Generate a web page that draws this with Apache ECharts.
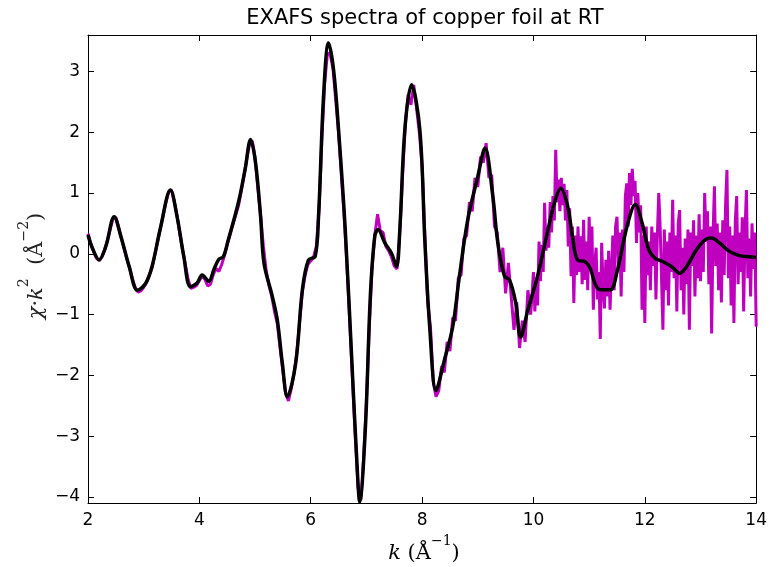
<!DOCTYPE html>
<html>
<head>
<meta charset="utf-8">
<title>EXAFS spectra of copper foil at RT</title>
<script src="https://cdn.jsdelivr.net/npm/echarts@6/dist/echarts.min.js"></script>
<style>
  html, body { margin: 0; padding: 0; background: #fff; }
  #chart { width: 770px; height: 567px; }
</style>
</head>
<body>
<div id="chart"></div>
<script>
// Measured chi(k)*k^2, low-k part, step 0.05 from k = 2.00
const lowStart = 2.0;
const lowStep = 0.05;
const measuredLow = [
  // 2.00 - 2.95
  0.33, 0.17, 0.04, -0.07, -0.11, -0.05, 0.07, 0.22, 0.41, 0.58, 0.60, 0.43, 0.25, 0.08, -0.09, -0.25, -0.42, -0.56, -0.63, -0.61,
  // 3.00 - 3.95
  -0.55, -0.47, -0.35, -0.23, -0.02, 0.20, 0.42, 0.63, 0.85, 1.02, 1.05, 0.86, 0.62, 0.33, 0.06, -0.19, -0.43, -0.57, -0.55, -0.52,
  // 4.00 - 4.95
  -0.44, -0.37, -0.42, -0.53, -0.50, -0.34, -0.24, -0.29, -0.18, -0.03, 0.16, 0.31, 0.48, 0.63, 0.78, 1.02, 1.28, 1.55, 1.80, 1.86,
  // 5.00 - 5.95
  1.58, 1.08, 0.62, 0.12, -0.28, -0.52, -0.70, -0.95, -1.15, -1.55, -1.93, -2.30, -2.42, -2.22, -1.97, -1.63, -1.12, -0.62, -0.35, -0.17,
  // 6.00 - 6.95
  -0.12, -0.06, 0.12, 0.74, 1.88, 2.80, 3.30, 3.28, 3.05, 2.52, 1.98, 1.30, 0.62, -0.18, -1.10, -2.05, -3.00, -3.85, -4.05, -3.35,
  // 7.00 - 7.95
  -2.42, -1.25, -0.25, 0.30, 0.65, 0.38, 0.35, 0.12, 0.05, -0.05, -0.20, -0.25, 0.35, 1.30, 2.15, 2.62, 2.45, 2.78, 2.40, 2.00,
  // 8.00 - 8.95
  1.45, 0.30, -0.80, -1.20, -2.10, -2.35, -2.25, -1.85, -1.95, -1.45, -1.60, -1.05, -1.10, -0.40, -0.35, 0.25, 0.30, 0.85, 0.70, 1.25,
  // 9.00 - 9.95
  1.10, 1.60, 1.50, 1.82, 1.25, 1.30, 0.45, 0.35, -0.30, 0.10, -0.65, -0.15, -0.70, -1.25, -0.80, -1.55, -1.10, -1.45, -0.60, -1.00
];

// Measured chi(k)*k^2, high-k part, step 0.025 from k = 10.000
const highStart = 10.0;
const highStep = 0.025;
const measuredHigh = [
  // 10.000 - 10.975
  -0.30, -0.95, -0.40, -0.85, 0.20, -0.45, 0.15, -0.30, 0.84, 0.05, 0.45, 0.10, 0.85, 0.35, 0.95, 0.55, 1.71, 0.85, 1.22, 0.70,
  1.25, 0.80, 1.15, 0.55, 1.05, 0.12, 0.75, -0.37, 0.45, -0.81, 0.30, -0.35, 0.45, -0.30, 0.29, -0.50, 0.56, -0.43, 0.20, -0.60,
  // 11.000 - 11.975
  0.61, -0.20, 0.45, -0.92, -0.20, 0.10, -0.75, -0.30, -1.40, 0.18, -0.55, -0.90, -0.10, -0.70, 0.05, -0.92, -0.30, 0.30, -0.60, 0.45,
  0.61, -0.20, 0.35, -0.70, 0.40, -0.30, 0.95, 1.16, 0.45, 1.33, 0.80, 1.40, 0.95, 1.20, 0.18, 1.00, 0.35, 0.80, -0.92, 0.30,
  // 12.000 - 12.975
  -1.14, 0.45, -0.35, 0.20, -0.60, 0.45, -0.20, 0.35, -0.75, 0.30, 1.00, 0.45, -0.40, -1.25, 0.40, -0.60, 0.20, -0.85, 0.35, -0.30,
  0.89, -0.40, 0.30, -0.95, 0.50, 0.72, -0.60, 0.10, -1.00, 0.25, -0.50, 0.40, -1.25, 0.35, -0.20, 0.55, -0.70, 0.30, -0.40, 0.65,
  // 13.000 - 13.975
  -0.45, 0.40, -0.30, 1.00, 0.20, 0.70, -0.50, 0.45, -1.31, 0.30, 1.11, -0.20, 0.50, -0.60, 0.35, -0.80, 0.55, -0.35, 0.80, 1.38,
  -0.40, 0.45, -0.85, 0.30, -1.14, 0.55, 0.95, -0.50, 0.35, -0.30, 0.60, -0.95, 0.40, 1.05, -0.40, 0.25, -0.70, 0.50, -0.25, 0.35,
  // 14.000
  -1.20
];

// Smoothed back-transform (fit) of the spectrum
const fitK = [
  2.00, 2.08, 2.20, 2.32, 2.47, 2.59, 2.74, 2.89, 3.04, 3.15, 3.30, 3.48, 3.60, 3.72, 3.84, 3.96, 4.05, 4.17, 4.26, 4.35,
  4.43, 4.52, 4.70, 4.82, 4.92, 5.01, 5.10, 5.16, 5.31, 5.40, 5.49, 5.58, 5.73, 5.85, 5.96, 6.08, 6.14, 6.23, 6.32, 6.41,
  6.50, 6.62, 6.74, 6.83, 6.88, 6.98, 7.07, 7.15, 7.21, 7.33, 7.45, 7.54, 7.60, 7.69, 7.81, 7.96, 8.05, 8.14, 8.25, 8.40,
  8.55, 8.67, 8.82, 9.00, 9.13, 9.27, 9.36, 9.48, 9.57, 9.68, 9.77, 9.90, 10.07, 10.25, 10.38, 10.49, 10.61, 10.70, 10.79, 10.93,
  11.02, 11.11, 11.20, 11.38, 11.50, 11.68, 11.83, 11.95, 12.07, 12.18, 12.33, 12.48, 12.63, 12.75, 12.93, 13.08, 13.20, 13.34, 13.52, 13.70,
  13.88, 14.00
];
const fitChi = [
  0.31, 0.09, -0.10, 0.12, 0.61, 0.29, -0.21, -0.60, -0.48, -0.21, 0.42, 1.05, 0.61, -0.04, -0.54, -0.48, -0.35, -0.45, -0.26, -0.09,
  -0.05, 0.23, 0.84, 1.38, 1.88, 1.49, 0.61, -0.15, -0.70, -1.09, -1.80, -2.35, -1.80, -0.59, -0.10, -0.04, 0.61, 2.59, 3.47, 3.03,
  2.04, 0.40, -1.80, -3.44, -4.08, -2.90, -0.70, 0.29, 0.40, 0.18, 0.01, -0.21, 0.40, 2.04, 2.78, 2.04, 0.20, -1.25, -2.25, -1.75,
  -1.20, -0.37, 0.56, 1.27, 1.74, 0.95, 0.18, -0.37, -0.43, -0.80, -1.37, -0.92, -0.38, 0.35, 0.85, 1.08, 0.80, 0.29, -0.10, -0.13,
  -0.24, -0.50, -0.59, -0.59, -0.30, 0.45, 0.81, 0.51, 0.07, -0.07, -0.13, -0.21, -0.32, -0.21, 0.07, 0.23, 0.26, 0.18, 0.04, -0.03,
  -0.05, -0.06
];

const xTicks = [2, 4, 6, 8, 10, 12, 14];
const yTicks = [-4, -3, -2, -1, 0, 1, 2, 3];

const titleText = 'EXAFS spectra of copper foil at RT';

const measuredSeries = measuredLow.map((v, i) => [+(lowStart + i * lowStep).toFixed(3), v])
  .concat(measuredHigh.map((v, i) => [+(highStart + i * highStep).toFixed(3), v]));
const fitSeries = fitK.map((k, i) => [k, fitChi[i]]);

const minusFmt = v => String(v).replace('-', '\u2212');
const tickFont = { fontFamily: 'DejaVu Sans', fontSize: 17, color: '#000' };

function xAxisDef(pos, showLabel) {
  return {
    type: 'value', position: pos, min: 2, max: 14, interval: 2,
    axisLine: { show: true, onZero: false, lineStyle: { color: '#000', width: 1 } },
    axisTick: { show: true, inside: true, length: 6, customValues: xTicks, lineStyle: { color: '#000', width: 1 } },
    axisLabel: Object.assign({ show: showLabel, margin: 9, customValues: xTicks, formatter: minusFmt }, tickFont),
    splitLine: { show: false }
  };
}
function yAxisDef(pos, showLabel) {
  return {
    type: 'value', position: pos, min: -4.1, max: 3.6,
    axisLine: { show: true, onZero: false, lineStyle: { color: '#000', width: 1 } },
    axisTick: { show: true, inside: true, length: 6, customValues: yTicks, lineStyle: { color: '#000', width: 1 } },
    axisLabel: Object.assign({ show: showLabel, margin: 8, customValues: yTicks, formatter: minusFmt }, tickFont),
    splitLine: { show: false }
  };
}

const chart = echarts.init(document.getElementById('chart'), null, { renderer: 'canvas' });
const serif = 'DejaVu Serif';
const mathRich = color => ({
  i: { fontFamily: serif, fontStyle: 'italic', fontSize: 21, lineHeight: 30, verticalAlign: 'bottom', fill: color },
  n: { fontFamily: serif, fontSize: 21, lineHeight: 30, verticalAlign: 'bottom', fill: color },
  s: { fontFamily: serif, fontSize: 14, lineHeight: 30, verticalAlign: 'top', fill: color }
});
chart.setOption({
  animation: false,
  backgroundColor: '#fff',
  grid: { left: 88, right: 8, top: 35, bottom: 64 },
  xAxis: [xAxisDef('bottom', true), xAxisDef('top', false)],
  yAxis: [yAxisDef('left', true), yAxisDef('right', false)],
  graphic: [
    {
      type: 'text', x: 425, y: 19,
      style: { text: titleText, fontFamily: 'DejaVu Sans', fontSize: 21, fill: '#000', align: 'center', verticalAlign: 'middle' }
    },
    {
      type: 'text', x: 424, y: 549,
      style: {
        text: '{i|k}{n|\u00a0(Å}{s|\u22121}{n|)}',
        align: 'center', verticalAlign: 'middle', fill: '#000',
        rich: mathRich('#000')
      }
    },
    {
      type: 'text', x: 32, y: 266, rotation: Math.PI / 2,
      style: {
        text: '{i|\u03c7}{n|\u00b7}{i|k}{s|2}{n|\u00a0\u00a0(Å}{s|\u22122}{n|)}',
        align: 'center', verticalAlign: 'middle', fill: '#222',
        rich: mathRich('#222')
      }
    }
  ],
  series: [
    {
      name: 'measured', type: 'line', xAxisIndex: 0, yAxisIndex: 0,
      data: measuredSeries, showSymbol: false, smooth: false,
      lineStyle: { color: '#bf00bf', width: 3 }, z: 2
    },
    {
      name: 'fit', type: 'line', xAxisIndex: 0, yAxisIndex: 0,
      data: fitSeries, showSymbol: false, smooth: 0.35,
      lineStyle: { color: '#000', width: 3.5 }, z: 3
    }
  ]
});
</script>
</body>
</html>
